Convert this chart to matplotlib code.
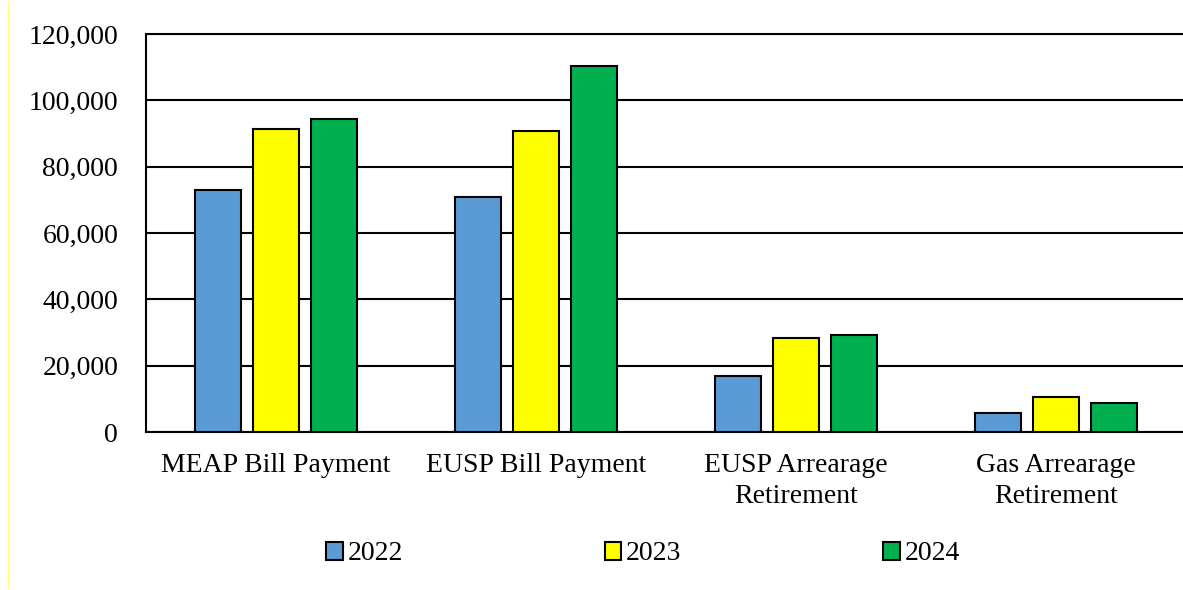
import matplotlib
matplotlib.use("Agg")
import matplotlib.pyplot as plt
import numpy as np
from matplotlib.lines import Line2D

categories = ["MEAP Bill Payment", "EUSP Bill Payment", "EUSP Arrearage\nRetirement", "Gas Arrearage\nRetirement"]
years = ["2022", "2023", "2024"]
values_2022 = [73000, 71000, 17000, 5600]
values_2023 = [91300, 90800, 28200, 10700]
values_2024 = [94300, 110300, 29100, 8800]
yticks = [0, 20000, 40000, 60000, 80000, 100000, 120000]
colors = ["#5B9BD5", "#FFFF00", "#00B050"]

plt.rcParams['font.family'] = ['Liberation Serif', 'DejaVu Serif']

fig = plt.figure(figsize=(11.83, 5.90), dpi=100)
ax = fig.add_axes([146/1183, 1-432/590, 1040/1183, (432-34)/590])

x = np.arange(len(categories))
offset = 0.223
width = 0.177
series = [values_2022, values_2023, values_2024]
for i, (vals, lab, col) in enumerate(zip(series, years, colors)):
    ax.bar(x + (i-1)*offset, vals, width, color=col, edgecolor='black',
           linewidth=1.5, label=lab, zorder=3)

ax.set_xlim(-0.5, 3.5)
ax.set_ylim(0, 120000)
ax.set_yticks(yticks)
ax.set_yticklabels([f"{v:,}" for v in yticks], fontsize=20)
ax.set_xticks(x)
ax.set_xticklabels(categories, fontsize=20, linespacing=1.35)
ax.tick_params(axis='y', length=0, pad=20)
ax.tick_params(axis='x', length=0, pad=15)
ax.yaxis.grid(True, color='black', linewidth=1.5, zorder=0)
ax.set_axisbelow(True)
ax.spines['right'].set_visible(False)
for s in ['left', 'bottom', 'top']:
    ax.spines[s].set_linewidth(1.5)

leg = fig.legend(loc='center', bbox_to_anchor=(643/1183, 1-554/590), ncol=3,
                 frameon=False, fontsize=20, handlelength=0.6, handleheight=0.6,
                 handletextpad=0.18, columnspacing=7.25, borderaxespad=0)
for h in leg.legend_handles:
    h.set_linewidth(1.5)

fig.add_artist(Line2D([7.5/1183, 7.5/1183], [2/590, 588/590], color='#FFFF80', linewidth=0.8))

fig.savefig("out.png", dpi=100)
